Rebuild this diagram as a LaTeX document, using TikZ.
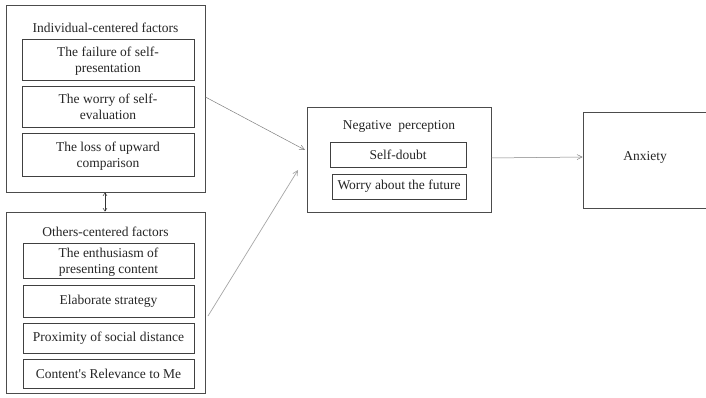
\documentclass[tikz,border=0pt]{standalone}
\usepackage{fontspec}
\setmainfont{Liberation Serif}[Ligatures=TeXOff]
\usetikzlibrary{arrows.meta,calc}
\newcommand{\lowtext}[1]{\raisebox{-2pt}[\height][\depth]{\begin{tabular}{@{}c@{}}#1\end{tabular}}}
\begin{document}
\begin{tikzpicture}[x=1pt,y=-1pt,
  every node/.style={font=\fontsize{13.5}{16}\selectfont, text=black!85},
  outerbox/.style={draw=black!70, line width=0.8pt, inner sep=0pt, anchor=center},
  innerbox/.style={draw=black!75, line width=0.8pt, inner sep=0pt, anchor=center, align=center},
  conn/.style={draw=black!50, line width=0.5pt, -{Straight Barb[length=5pt,width=5pt]}},
  connlight/.style={draw=black!35, line width=0.7pt, -{Straight Barb[length=5pt,width=5pt]}},
  dconn/.style={draw=black!80, line width=0.5pt, {Straight Barb[length=3pt,width=4pt]}-{Straight Barb[length=3pt,width=4pt]}}
]
\clip (0,0) rectangle (706,398);
\fill[white] (0,0) rectangle (706,398);
% group 1
\node[outerbox, minimum width=199, minimum height=187] (g1) at (105.5,98.5) {};
\node (g1t) at (105.5,28) {Individual-centered factors};
\node[innerbox, minimum width=172, minimum height=41] (a1) at (108,59.5) {\lowtext{The failure of self-\\presentation}};
\node[innerbox, minimum width=172, minimum height=41] (a2) at (108,106.5) {\lowtext{The worry of self-\\evaluation}};
\node[innerbox, minimum width=172, minimum height=43] (a3) at (108,154.5) {\lowtext{The loss of upward\\comparison}};
% group 2
\node[outerbox, minimum width=199, minimum height=181] (g2) at (105.5,302.5) {};
\node (g2t) at (105.5,232) {Others-centered factors};
\node[innerbox, minimum width=171, minimum height=35] (b1) at (108.5,260.5) {\lowtext{The enthusiasm of\\presenting content}};
\node[innerbox, minimum width=171, minimum height=32] (b2) at (108.5,301) {Elaborate strategy};
\node[innerbox, minimum width=171, minimum height=30] (b3) at (108.5,338) {Proximity of social distance};
\node[innerbox, minimum width=171, minimum height=29] (b4) at (108.5,373.5) {Content's Relevance to Me};
% negative perception
\node[outerbox, minimum width=184, minimum height=105] (np) at (399,159.5) {};
\node (npt) at (399,126) {Negative\ \ perception};
\node[innerbox, minimum width=136, minimum height=25] (c1) at (398,154.5) {Self-doubt};
\node[innerbox, minimum width=134, minimum height=25] (c2) at (399,186.5) {Worry about the future};
% anxiety
\node[outerbox, minimum width=127, minimum height=96] (ax) at (646.5,160) {};
\node (axt) at (645,157) {Anxiety};
% connectors
\coordinate (e1) at (305,150);
\coordinate (e2) at (298,170);
\coordinate (s2) at (208,316);
\draw[conn] (g1.east |- 0,97) -- (e1);
\draw[connlight] (s2) -- (e2);
\draw[conn] (np.east |- 0,158) -- (ax.west |- 0,157);
\draw[dconn] (g1.south -| 105,0) -- (g2.north -| 105,0);
\end{tikzpicture}
\end{document}
